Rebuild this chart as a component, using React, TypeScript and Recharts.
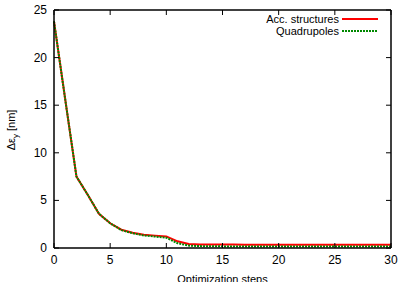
import React from 'react';
import { LineChart, Line, XAxis, YAxis, Label } from 'recharts';

const steps = Array.from({ length: 31 }, (_, i) => i);
const accStructures = [
  23.8, 15.6, 7.5, 5.6, 3.6, 2.6, 1.92, 1.6, 1.4, 1.3, 1.22, 0.7, 0.42, 0.38, 0.37, 0.36,
  0.36, 0.35, 0.35, 0.35, 0.35, 0.34, 0.34, 0.34, 0.34, 0.34, 0.34, 0.33, 0.33, 0.33, 0.33,
];
const quadrupoles = [
  23.8, 15.6, 7.5, 5.6, 3.6, 2.6, 1.88, 1.55, 1.32, 1.2, 1.08, 0.5, 0.25, 0.2, 0.18, 0.17,
  0.17, 0.16, 0.16, 0.16, 0.15, 0.15, 0.15, 0.15, 0.15, 0.15, 0.15, 0.15, 0.15, 0.15, 0.15,
];
const xTicks = [0, 5, 10, 15, 20, 25, 30];
const yTicks = [0, 5, 10, 15, 20, 25];

const data = steps.map((s, i) => ({ step: s, acc: accStructures[i], quad: quadrupoles[i] }));

const FONT = '"Liberation Sans", Arial, sans-serif';
const TICK_LEN = 5;

// gnuplot-style ticks: label outside, short tick mark pointing into the plot
const BottomTick = (props: any) => {
  const { x, y, payload } = props;
  const axisY = y - 6;
  return (
    <g>
      <line x1={x} x2={x} y1={axisY} y2={axisY - TICK_LEN} stroke="#000" />
      <text x={x} y={y} dy={10} textAnchor="middle" fontSize={12} fontFamily={FONT} fill="#000">
        {payload.value}
      </text>
    </g>
  );
};

const TopTick = (props: any) => {
  const { x, y } = props;
  return <line x1={x} x2={x} y1={y} y2={y + TICK_LEN} stroke="#000" />;
};

const LeftTick = (props: any) => {
  const { x, y, payload } = props;
  const axisX = x + 6;
  return (
    <g>
      <line x1={axisX} x2={axisX + TICK_LEN} y1={y} y2={y} stroke="#000" />
      <text x={x - 1} y={y} dy={4} textAnchor="end" fontSize={12} fontFamily={FONT} fill="#000">
        {payload.value}
      </text>
    </g>
  );
};

const RightTick = (props: any) => {
  const { x, y } = props;
  return <line x1={x} x2={x - TICK_LEN} y1={y} y2={y} stroke="#000" />;
};

const YLabel = () => (
  <text
    transform="translate(15,130) rotate(-90)"
    textAnchor="middle"
    fontSize={11}
    fontFamily={FONT}
    fill="#000"
  >
    Δε
    <tspan fontSize={8} dy={3}>y</tspan>
    <tspan dy={-3}> [nm]</tspan>
  </text>
);

const legendItems = [
  { name: 'Acc. structures', color: '#ff0000', dash: false },
  { name: 'Quadrupoles', color: '#008800', dash: true },
];

const LegendBox = () => (
  <div
    style={{
      position: 'absolute',
      top: 13,
      right: 20,
      fontFamily: FONT,
      fontSize: 11,
      lineHeight: '12px',
      color: '#000',
    }}
  >
    {legendItems.map((item) => (
      <div key={item.name} style={{ display: 'flex', justifyContent: 'flex-end', alignItems: 'center', height: 12 }}>
        <span>{item.name}</span>
        <svg width={40} height={12} style={{ marginLeft: 1 }}>
          <line
            x1={2}
            x2={38}
            y1={6}
            y2={6}
            stroke={item.color}
            strokeWidth={2}
            strokeDasharray={item.dash ? '2 1' : undefined}
          />
        </svg>
      </div>
    ))}
  </div>
);

export default function App() {
  return (
    <div style={{ position: 'absolute', left: 0, top: 0, width: 400, height: 282, background: '#fff' }}>
      <LineChart width={400} height={282} data={data} margin={{ top: 0, right: 0, bottom: 0, left: 0 }}>
        <XAxis
          dataKey="step"
          type="number"
          domain={[0, 30]}
          ticks={xTicks}
          tickSize={0}
          tickMargin={6}
          tick={<BottomTick />}
          axisLine={{ stroke: '#000', strokeWidth: 1.5 }}
          height={34}
        >
          <Label
            value="Optimization steps"
            position="insideBottom"
            offset={-1}
            style={{ fontFamily: FONT, fontSize: 11, fill: '#000' }}
          />
        </XAxis>
        <XAxis
          xAxisId="top"
          orientation="top"
          dataKey="step"
          type="number"
          domain={[0, 30]}
          ticks={xTicks}
          tickSize={0}
          tickMargin={0}
          tick={<TopTick />}
          axisLine={{ stroke: '#000', strokeWidth: 1.5 }}
          height={10}
        />
        <YAxis
          type="number"
          domain={[0, 25]}
          ticks={yTicks}
          tickSize={0}
          tickMargin={6}
          tick={<LeftTick />}
          axisLine={{ stroke: '#000', strokeWidth: 1.5 }}
          width={54}
          label={<YLabel />}
        />
        <YAxis
          yAxisId="right"
          orientation="right"
          type="number"
          domain={[0, 25]}
          ticks={yTicks}
          tickSize={0}
          tickMargin={0}
          tick={<RightTick />}
          axisLine={{ stroke: '#000', strokeWidth: 1.5 }}
          width={9}
        />
        {/* invisible series so the top / right frame axes get drawn */}
        <Line
          xAxisId="top"
          yAxisId="right"
          dataKey="acc"
          stroke="transparent"
          dot={false}
          activeDot={false}
          isAnimationActive={false}
        />
        <Line
          type="linear"
          dataKey="acc"
          stroke="#ff0000"
          strokeWidth={2}
          dot={false}
          isAnimationActive={false}
        />
        <Line
          type="linear"
          dataKey="quad"
          stroke="#008800"
          strokeWidth={2}
          strokeDasharray="2 1"
          dot={false}
          isAnimationActive={false}
        />
      </LineChart>
      <LegendBox />
    </div>
  );
}
